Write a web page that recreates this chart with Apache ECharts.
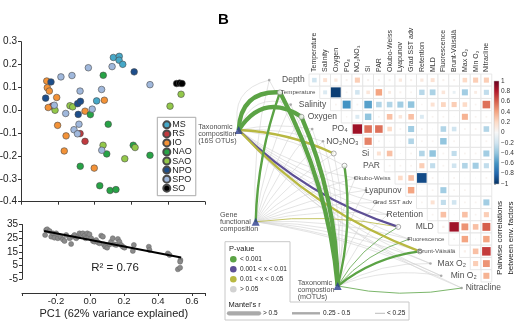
<!DOCTYPE html>
<html><head><meta charset="utf-8">
<script src="https://cdn.jsdelivr.net/npm/echarts@6/dist/echarts.min.js"></script>
<style>html,body{margin:0;padding:0;background:#fff}#c{width:520px;height:325px;background:#fff}</style>
</head><body><div id="c"></div><script>
// ================= DATA =================
const groups = ['MS','RS','IO','NAO','SAO','NPO','SPO','SO'];
const pcaMS  = [[0.102,0.231],[0.134,0.236],[0.133,0.219],[0.153,0.201],[0.011,0.041]];
const pcaRS  = [[-0.230,0.018],[-0.079,-0.102],[-0.052,-0.136]];
const pcaIO  = [[-0.260,0.128],[-0.257,0.099],[-0.246,0.084],[-0.206,0.056],[-0.252,0.012],[0.053,0.044],[-0.052,-0.004],[-0.201,-0.066],[-0.155,-0.112],[-0.165,-0.178],[-0.002,-0.253]];
const pcaNAO = [[0.047,0.153],[-0.023,-0.019],[0.074,-0.061],[0.066,-0.191],[0.210,-0.153],[0.301,-0.197],[-0.078,-0.245],[0.028,-0.330],[0.084,-0.351],[0.116,-0.347]];
const pcaSAO = [[-0.215,0.0],[-0.134,0.020],[-0.119,0.015],[0.046,-0.153],[0.220,-0.163],[0.164,-0.212],[0.410,0.018],[0.470,0.070]];
const pcaNPO = [[-0.237,0.124],[-0.266,0.053],[-0.092,0.029],[-0.077,0.039],[-0.089,-0.018],[0.215,0.168]];
const pcaSPO = [[-0.183,0.146],[-0.123,0.152],[-0.034,0.186],[0.095,0.191],[0.301,0.112],[-0.079,0.084],[0.038,0.091],[-0.013,0.005],[-0.157,-0.014],[-0.085,-0.061],[-0.112,-0.085],[-0.093,-0.103],[0.039,-0.175],[-0.219,0.022]];
const pcaSO  = [[0.446,0.117],[0.462,0.119],[0.475,0.117]];

const pc1Temperature = [[-0.264,27.3],[-0.258,31.0],[-0.252,31.5],[-0.238,30.2],[-0.228,26.1],[-0.218,28.5],[-0.209,25.3],[-0.199,28.5],[-0.189,24.9],[-0.173,26.1],[-0.160,24.1],[-0.150,22.9],[-0.140,27.3],[-0.120,24.9],[-0.111,20.7],[-0.101,26.1],[-0.091,27.3],[-0.081,24.9],[-0.071,26.1],[-0.062,28.5],[-0.052,27.8],[-0.042,28.5],[-0.032,26.8],[-0.026,24.9],[-0.016,28.5],[-0.009,26.1],[-0.003,27.8],[0.007,24.9],[0.017,22.9],[0.026,22.4],[0.036,23.6],[0.046,21.9],[0.056,21.2],[0.066,26.8],[0.076,26.1],[0.081,20.4],[0.089,18.7],[0.101,18.0],[0.115,20.4],[0.124,22.4],[0.134,24.9],[0.144,20.4],[0.154,20.0],[0.164,24.4],[0.173,22.4],[0.183,20.0],[0.193,18.7],[0.203,18.0],[0.258,20.0],[0.252,15.6],[0.346,18.7],[0.350,16.3],[0.458,13.8],[0.468,12.6],[0.532,8.9],[0.530,7.7],[0.517,2.1],[0.530,3.3]];
const regressionLine = [[-0.27,30.2],[0.536,10.8]];
const rSquared = '0.76';

const envColumns = ['Temperature','Salinity','Oxygen','PO₄','NO₂NO₃','Si','PAR','Okubo-Weiss','Lyapunov','Grad SST adv','Retention','MLD','Fluorescence','Brunt-Väisälä','Max O₂','Min O₂','Nitracline'];
const envRows = ['Depth','Temperature','Salinity','Oxygen','PO₄','NO₂NO₃','Si','PAR','Okubo-Weiss','Lyapunov','Grad SST adv','Retention','MLD','Fluorescence','Brunt-Väisälä','Max O₂','Min O₂'];
// pairwise correlations, row i starts at column i
const corrDepth       = [-0.2,0.15,0.1,0.04,0.25,0.04,0.04,0.04,0.1,0.04,0.1,0.15,0.04,0.04,0.2,0.25,0.25];
const corrTemperature = [-0.15,-0.95,0.03,-0.2,0.12,0.4,0.08,0.04,0.03,-0.28,-0.32,0.12,-0.08,-0.35,0.08,-0.25];
const corrSalinity    = [0.03,-0.6,0.03,-0.55,-0.3,-0.3,-0.35,-0.4,0.02,0.15,0.22,0.25,0.2,0.03,0.55];
const corrOxygen      = [0.02,-0.15,-0.4,0.03,0.3,0.12,0.3,-0.15,0.03,0.03,0.01,0.35,0.03,0.03];
const corrPO4         = [0.85,0.55,0.55,0.2,0.03,-0.35,0.03,0.01,-0.3,-0.2,0.03,0.03,-0.3];
const corrNO2NO3      = [0.5,0.03,0.01,0.01,-0.3,0.03,0.03,-0.4,0.03,0.01,0.01,0.03];
const corrSi          = [0.15,0.3,0.01,0.03,-0.3,-0.4,0.03,-0.25,0.03,0.03,-0.35];
const corrPAR         = [0.03,0.03,0.03,0.25,-0.25,0.03,-0.2,-0.3,-0.35,-0.25];
const corrOkuboWeiss  = [0.2,0.3,-0.9,0.03,0.01,0.03,0.01,0.01,0.03];
const corrLyapunov    = [0.4,0.01,0.03,-0.35,0.03,0.03,0.01,0.01];
const corrGradSST     = [0.03,0.15,-0.25,-0.2,0.03,0.03,-0.35];
const corrRetention   = [0.03,0.3,0.01,0.3,0.03,0.25];
const corrMLD         = [0.05,0.85,0.45,0.3,0.6];
const corrFluorescence= [0.03,0.4,0.01,0.4];
const corrBruntVaisala= [0.05,0.3,0.7];
const corrMaxO2       = [0.25,0.45];
const corrMinO2       = [0.35];

// Mantel tests: targets = envRows + Nitracline
const mantelTargets = envRows.concat(['Nitracline']);
const mantelSources = ['Taxonomic\ncomposition\n(16S OTUs)','Gene\nfunctional\ncomposition','Taxonomic\ncompostion\n(mOTUs)'];
// p class: 0 <0.001, 1 0.001-0.01, 2 0.01-0.05, 3 >0.05 ; r class: 0 <0.25, 1 0.25-0.5, 2 >0.5
const mantelP16S  = [3,0,3,0,3,3,2,3,3,3,3,3,1,3,2,3,3,3];
const mantelR16S  = [0,2,0,2,0,0,1,0,0,0,0,0,1,0,1,0,0,0];
const mantelPGene = [3,0,3,3,3,3,3,3,3,3,3,3,2,3,3,3,3,3];
const mantelRGene = [0,1,0,0,0,0,0,0,0,0,0,0,0,0,0,0,0,0];
const mantelPmOTU = [3,0,3,0,3,3,3,0,3,3,3,3,0,0,0,3,3,0];
const mantelRmOTU = [0,2,0,2,0,0,0,1,0,0,0,0,0,0,1,0,0,0];
const pLegend = ['< 0.001','0.001 < x < 0.01','0.01 < x < 0.05','> 0.05'];
const rLegend = ['> 0.5','0.25 - 0.5','< 0.25'];

// ================= STYLE / LAYOUT =================
const F = "'Liberation Sans', Arial, sans-serif";
const groupColors = ['#46a8c8','#c03a3e','#f39237','#27a346','#93c84a','#1d4e8b','#a0b8dc','#000000'];
const RdBu = ['#053061','#2166ac','#4393c3','#92c5de','#d1e5f0','#f7f7f7','#fddbc7','#f4a582','#d6604d','#b2182b','#67001f'];
const pColors = ['#5ba345','#5d4f95','#b8b841','#d2d2d2'];
const rWidths = [0.8,2.4,4.3];
const smallLabels = ['Temperature','Okubo-Weiss','Grad SST adv','Fluorescence','Brunt-Väisälä'];
const sourcePos = [[-6.54,4.58],[-4.96,12.08],[2.67,17.33]];
const sourceLabelOffset = [[-40.5,4],[-35.7,0.5],[-40,4]];
function targetX(i){ return i < 17 ? i - 3.7 : i - 2.8; }
function targetY(i){ return i + 0.5; }
function curv(s,t){
  if (s === 0) return t <= 3 ? 0.5 : (t <= 7 ? 0.1 : -0.12);
  if (s === 1) return 0.08;
  return t <= 7 ? -0.1 : (t === 17 ? -0.1 : 0.14);
}

const pcaData = [pcaMS,pcaRS,pcaIO,pcaNAO,pcaSAO,pcaNPO,pcaSPO,pcaSO];
const corrRows = [corrDepth,corrTemperature,corrSalinity,corrOxygen,corrPO4,corrNO2NO3,corrSi,corrPAR,corrOkuboWeiss,corrLyapunov,corrGradSST,corrRetention,corrMLD,corrFluorescence,corrBruntVaisala,corrMaxO2,corrMinO2];
const heatData = [];
corrRows.forEach((row,r)=>row.forEach((v,k)=>heatData.push([r+k, r, v])));

const mP = [mantelP16S,mantelPGene,mantelPmOTU];
const mR = [mantelR16S,mantelRGene,mantelRmOTU];
const grayLines = [], colorLines = [];
mP.forEach((ps,s)=>ps.forEach((p,t)=>{
  const item = {coords:[sourcePos[s],[targetX(t),targetY(t)]],
    lineStyle:{color:pColors[p], width: p===3 ? 0.6 : rWidths[mR[s][t]], curveness: curv(s,t), opacity:1}};
  (p===3 ? grayLines : colorLines).push(item);
}));
colorLines.sort((a,b)=>a.lineStyle.width-b.lineStyle.width);

const strongTarget = mantelTargets.map((n,t)=>mP.some((ps,s)=>ps[t]<3 && mR[s][t]>=1));
const targetDots = mantelTargets.map((n,t)=>({
  value:[targetX(t),targetY(t)],
  symbolSize: strongTarget[t] ? 5 : 2.6,
  itemStyle: strongTarget[t] ? {color:'#fff',borderColor:'#8a8a8a',borderWidth:0.9} : {color:'#9a9a9a'}
}));
const rowLabels = envRows.map((name,i)=>({
  value:[i-0.4, i+0.5],
  label:{formatter:name, fontSize: smallLabels.includes(name)?6.2:8.5}
}));
rowLabels.push({value:[targetX(17),targetY(17)], label:{formatter:'Nitracline', fontSize:8.5, position:'right', distance:4}});
const sourceNodes = mantelSources.map((n,s)=>({
  value:sourcePos[s],
  label:{show:true, formatter:n, position:'inside', offset:sourceLabelOffset[s], align:'left', verticalAlign:'middle', fontSize:7.2, lineHeight:7.1, color:'#222'}
}));

function fmt1(v){ const r=Math.round(v*10)/10; return r===0?'0.0':r.toFixed(1); }
const axisCol = '#333';
function aLine(){ return {show:true, onZero:false, lineStyle:{color:axisCol,width:1}}; }
function aTick(){ return {show:true, length:3, lineStyle:{color:axisCol,width:1}}; }

const chart = echarts.init(document.getElementById('c'));
const option = {
  animation:false,
  textStyle:{fontFamily:F},
  grid:[
    {left:21, top:41.7, width:184, height:160, outerBoundsMode:'none', containLabel:false},
    {left:22, top:224.5, width:183.6, height:54.5, outerBoundsMode:'none', containLabel:false},
    {left:212.25, top:74, width:279.5, height:226.26, outerBoundsMode:'none', containLabel:false},
    {left:309, top:74, width:182.75, height:5, outerBoundsMode:'none', containLabel:false},
    {left:494, top:81, width:5, height:103, outerBoundsMode:'none', containLabel:false}
  ],
  xAxis:[
    {gridIndex:0, z:1, type:'value', min:-0.4, max:0.6, interval:0.2,
      axisLine:aLine(), axisTick:aTick(), axisLabel:{show:false}, splitLine:{show:false}},
    {gridIndex:1, z:1, type:'value', min:-0.4, max:0.68, interval:0.2, offset:14,
      axisLine:aLine(), axisTick:aTick(),
      axisLabel:{fontSize:9.5, color:'#222', margin:3, formatter:v=>(Math.abs(v+0.4)<1e-6||v>0.65)?'':fmt1(v)},
      splitLine:{show:false},
      name:'PC1 (62% variance explained)', nameLocation:'middle', nameGap:15,
      nameTextStyle:{fontSize:11, color:'#222', fontFamily:F}},
    {gridIndex:2, type:'value', min:-9, max:17, axisLine:{show:false}, axisTick:{show:false}, axisLabel:{show:false}, splitLine:{show:false}},
    {gridIndex:3, type:'category', data:envColumns, position:'top',
      axisLine:{show:false}, axisTick:{show:false},
      axisLabel:{rotate:90, fontSize:7, margin:2, color:'#333', interval:0}},
    {gridIndex:4, type:'value', min:0, max:1, axisLine:{show:false}, axisTick:{show:false}, axisLabel:{show:false}, splitLine:{show:false}}
  ],
  yAxis:[
    {gridIndex:0, z:1, type:'value', min:-0.4, max:0.3, interval:0.1,
      axisLine:aLine(), axisTick:aTick(),
      axisLabel:{fontSize:10, color:'#222', margin:4, formatter:fmt1}, splitLine:{show:false}},
    {gridIndex:1, z:1, type:'value', min:-5, max:35, interval:10,
      axisLine:aLine(), axisTick:aTick(),
      minorTick:{show:true, splitNumber:2, length:3, lineStyle:{color:axisCol,width:1}},
      axisLabel:{fontSize:10, color:'#222', margin:4}, splitLine:{show:false}},
    {gridIndex:2, type:'value', min:0, max:18.5, inverse:true, axisLine:{show:false}, axisTick:{show:false}, axisLabel:{show:false}, splitLine:{show:false}},
    {gridIndex:3, type:'value', axisLine:{show:false}, axisTick:{show:false}, axisLabel:{show:false}, splitLine:{show:false}},
    {gridIndex:4, z:1, type:'value', min:-1, max:1, interval:0.2, position:'right',
      axisLine:{show:false}, axisTick:{show:true,length:2,lineStyle:{color:'#666',width:0.6}},
      axisLabel:{fontSize:6.5, margin:2, color:'#333', formatter:v=>{const r=Math.round(v*10)/10; return r===0?'0':(r<0?'−'+Math.abs(r):String(r));}},
      splitLine:{show:false}}
  ],
  legend:{orient:'vertical', left:157.3, top:117.3, data:groups, icon:'circle',
    itemWidth:7, itemHeight:7, itemGap:0, padding:[3,4,3,5], selectedMode:false,
    borderColor:'#aaa', borderWidth:1,
    textStyle:{fontSize:9, lineHeight:9.05, color:'#222', padding:[0,0,0,-3], fontFamily:F}},
  visualMap:{type:'continuous', show:false, seriesIndex:10, dimension:2, min:-1, max:1, inRange:{color:RdBu}},
  series:[
    ...groups.map((g,i)=>({name:g, type:'scatter', xAxisIndex:0, yAxisIndex:0, data:pcaData[i], symbolSize:6.6,
      itemStyle:{color:groupColors[i], borderColor:'#4a4a4a', borderWidth:0.6, opacity:1}})),
    {type:'scatter', xAxisIndex:1, yAxisIndex:1, data:pc1Temperature, symbolSize:5,
      itemStyle:{color:'#8a8a8a', borderColor:'#666', borderWidth:0.5, opacity:1}},
    {type:'line', xAxisIndex:1, yAxisIndex:1, data:regressionLine, symbol:'none', lineStyle:{color:'#000',width:2}, z:5},
    {type:'custom', xAxisIndex:2, yAxisIndex:2, data:heatData, z:3,
      renderItem:(params,api)=>{
        const c=api.value(0), r=api.value(1), v=api.value(2);
        const p0=api.coord([c,r]), p1=api.coord([c+1,r+1]);
        const w=p1[0]-p0[0], h=p1[1]-p0[1];
        const s=Math.sqrt(Math.abs(v))*Math.min(w,h)*0.95;
        const cx=p0[0]+w/2, cy=p0[1]+h/2;
        return {type:'group', children:[
          {type:'rect', shape:{x:p0[0],y:p0[1],width:w,height:h}, style:{fill:'#fff',stroke:'#e2e2e2',lineWidth:0.8}},
          {type:'rect', shape:{x:cx-s/2,y:cy-s/2,width:s,height:s}, style:{fill:api.visual('color')}}
        ]};
      }},
    {type:'custom', xAxisIndex:4, yAxisIndex:4, data:[[0]],
      renderItem:(params,api)=>{
        const a=api.coord([0,1]), b=api.coord([1,-1]);
        const stops=RdBu.slice().reverse().map((c,i)=>({offset:i/(RdBu.length-1), color:c}));
        return {type:'rect', shape:{x:a[0],y:a[1],width:b[0]-a[0],height:b[1]-a[1]},
          style:{fill:new echarts.graphic.LinearGradient(0,0,0,1,stops), stroke:'#bbb', lineWidth:0.5}};
      }},
    {type:'lines', coordinateSystem:'cartesian2d', xAxisIndex:2, yAxisIndex:2, data:grayLines, silent:true, z:1,
      lineStyle:{opacity:1}},
    {type:'lines', coordinateSystem:'cartesian2d', xAxisIndex:2, yAxisIndex:2, data:colorLines, silent:true, z:2,
      lineStyle:{opacity:1}},
    {type:'scatter', xAxisIndex:2, yAxisIndex:2, data:targetDots, z:6, silent:true},
    {type:'scatter', xAxisIndex:2, yAxisIndex:2, data:rowLabels, symbolSize:0, z:6, silent:true,
      label:{show:true, position:'left', distance:0, color:'#222', fontFamily:F}},
    {type:'scatter', xAxisIndex:2, yAxisIndex:2, data:sourceNodes, symbol:'triangle', symbolSize:8, z:7, silent:true,
      itemStyle:{color:'#2c3d8f'}},
    {type:'scatter', xAxisIndex:3, yAxisIndex:3, data:[]}
  ],
  graphic:[
    {type:'text', x:218, y:12, style:{text:'B', fontSize:15, fontWeight:'bold', fontFamily:F, fill:'#000'}},
    {type:'text', x:115, y:268, style:{text:'R² = '+rSquared, fontSize:11.5, fontFamily:F, fill:'#222', align:'center', verticalAlign:'middle'}},
    {type:'text', x:500, y:238, rotation:Math.PI/2, style:{text:'Pairwise correlations', fontSize:8, fontFamily:F, fill:'#222', align:'center', verticalAlign:'middle'}},
    {type:'text', x:511, y:238, rotation:Math.PI/2, style:{text:'between env. factors', fontSize:8, fontFamily:F, fill:'#222', align:'center', verticalAlign:'middle'}},
    {type:'polygon', z:50, shape:{points:[[225,241.7],[290,241.7],[290,302],[409,302],[409,320],[225,320]]},
      style:{fill:'#fff', stroke:'#c8c8c8', lineWidth:1}},
    {type:'text', z:51, x:229, y:248.5, style:{text:'P-value', fontSize:7.5, fontFamily:F, fill:'#222', verticalAlign:'middle'}},
    ...pLegend.map((t,i)=>({type:'circle', z:51, shape:{cx:233.3, cy:259.3+i*10, r:3.3}, style:{fill:pColors[i]}})),
    ...pLegend.map((t,i)=>({type:'text', z:51, x:240, y:259.3+i*10, style:{text:t, fontSize:6.5, fontFamily:F, fill:'#222', verticalAlign:'middle'}})),
    {type:'text', z:51, x:228.5, y:304.5, style:{text:"Mantel's r", fontSize:7.5, fontFamily:F, fill:'#222', verticalAlign:'middle'}},
    {type:'line', z:51, shape:{x1:229,y1:313.3,x2:259,y2:313.3}, style:{stroke:'#aaa', lineWidth:rWidths[2], lineCap:'round'}},
    {type:'text', z:51, x:263, y:313.3, style:{text:rLegend[0], fontSize:6.5, fontFamily:F, fill:'#222', verticalAlign:'middle'}},
    {type:'line', z:51, shape:{x1:292,y1:313.3,x2:320,y2:313.3}, style:{stroke:'#aaa', lineWidth:rWidths[1]}},
    {type:'text', z:51, x:323, y:313.3, style:{text:rLegend[1], fontSize:6.5, fontFamily:F, fill:'#222', verticalAlign:'middle'}},
    {type:'line', z:51, shape:{x1:375,y1:313.3,x2:385,y2:313.3}, style:{stroke:'#aaa', lineWidth:rWidths[0]}},
    {type:'text', z:51, x:387, y:313.3, style:{text:rLegend[2], fontSize:6.5, fontFamily:F, fill:'#222', verticalAlign:'middle'}}
  ]
};
chart.setOption(option);
</script></body></html>
